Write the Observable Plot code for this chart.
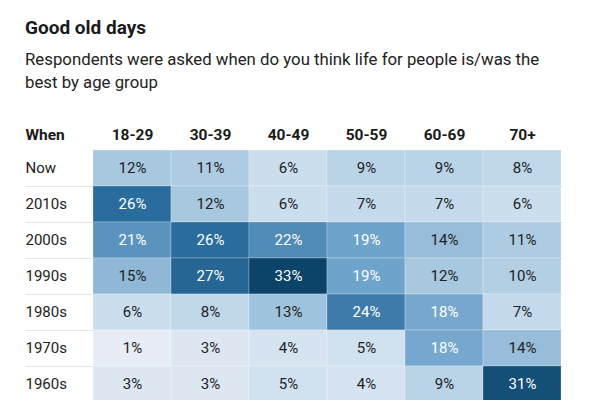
<!DOCTYPE html>
<html>
<head>
<meta charset="utf-8">
<script src="https://cdn.jsdelivr.net/npm/d3@7"></script>
<script src="https://cdn.jsdelivr.net/npm/@observablehq/plot@0.6"></script>
<style>
  html, body { margin: 0; padding: 0; background: #fff; overflow: hidden; }
  body { font-family: Roboto, sans-serif; color: #222; width: 600px; height: 400px; }
  #title { position: absolute; left: 25px; top: 15px; font-size: 19px; font-weight: 700; line-height: 26px; color: #1a1a1a; }
  #subtitle { position: absolute; left: 25px; top: 48px; width: 530px; font-size: 16.8px; line-height: 23px; color: #222; }
  #chart { position: absolute; left: 0; top: 100px; }
</style>
</head>
<body>
<div id="title">Good old days</div>
<div id="subtitle">Respondents were asked when do you think life for people is/was the best by age group</div>
<div id="chart"></div>
<script>
const headerLabel = "When";
const ageGroups = ["18-29", "30-39", "40-49", "50-59", "60-69", "70+"];
const periods = ["Now", "2010s", "2000s", "1990s", "1980s", "1970s", "1960s"];
const nowValues   = [12, 11, 6, 9, 9, 8];
const s2010Values = [26, 12, 6, 7, 7, 6];
const s2000Values = [21, 26, 22, 19, 14, 11];
const s1990Values = [15, 27, 33, 19, 12, 10];
const s1980Values = [6, 8, 13, 24, 18, 7];
const s1970Values = [1, 3, 4, 5, 18, 14];
const s1960Values = [3, 3, 5, 4, 9, 31];

const seriesByPeriod = [nowValues, s2010Values, s2000Values, s1990Values, s1980Values, s1970Values, s1960Values];
const cells = [];
periods.forEach((p, i) => {
  ageGroups.forEach((a, j) => {
    cells.push({period: p, age: a, value: seriesByPeriod[i][j]});
  });
});

const chart = Plot.plot({
  width: 600,
  height: 302,
  marginTop: 50,
  marginBottom: 0,
  marginLeft: 91,
  marginRight: 37,
  style: {fontFamily: "Roboto, sans-serif", overflow: "visible"},
  x: {domain: ageGroups, padding: 0, axis: null},
  y: {domain: periods, padding: 0, axis: null},
  color: {
    type: "linear",
    domain: [1, 6, 12, 19, 26, 33],
    range: ["#e8edf5", "#cadeee", "#a7c8df", "#6ea3cc", "#2a6c9d", "#0b4468"],
    interpolate: "rgb"
  },
  marks: [
    Plot.ruleY(periods.slice(0, -1), {y: d => d, dy: 18, insetLeft: -66, stroke: "#e6e6e6", strokeWidth: 1}),
    Plot.cell(cells, {x: "age", y: "period", fill: "value", stroke: "white", strokeOpacity: 0.25, strokeWidth: 1}),
    Plot.text(cells, {
      x: "age", y: "period",
      text: d => d.value + "%",
      fill: d => d.value >= 18 ? "white" : "#222",
      fontSize: 15
    }),
    Plot.text(ageGroups, {x: d => d, frameAnchor: "top", dy: -15, lineAnchor: "middle", text: d => d, fontSize: 15.5, fontWeight: 700, fill: "#1a1a1a"}),
    Plot.text([headerLabel], {frameAnchor: "top-left", dx: -66, dy: -15, text: d => d, textAnchor: "start", lineAnchor: "middle", fontSize: 15.5, fontWeight: 700, fill: "#1a1a1a"}),
    Plot.text(periods, {y: d => d, frameAnchor: "left", dx: -66, text: d => d, textAnchor: "start", fontSize: 15, fill: "#222"})
  ]
});
document.getElementById("chart").appendChild(chart);
</script>
</body>
</html>
